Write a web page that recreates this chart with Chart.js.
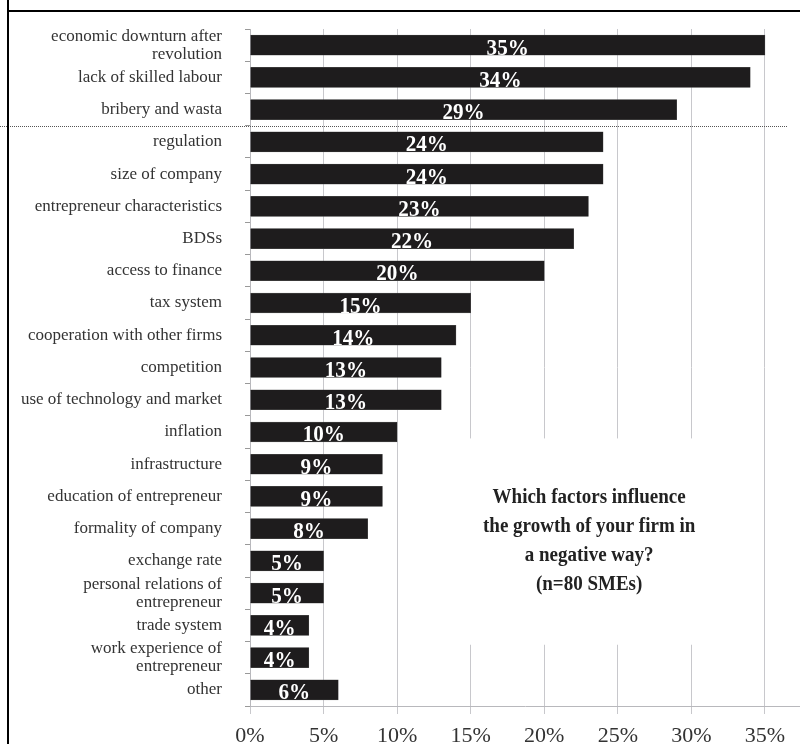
<!DOCTYPE html>
<html>
<head>
<meta charset="utf-8">
<script src="https://cdn.jsdelivr.net/npm/chart.js@4/dist/chart.umd.min.js"></script>
<style>
  html, body { margin: 0; padding: 0; background: #fff; }
  canvas { display: block; }
</style>
</head>
<body>
<canvas id="c" width="800" height="744"></canvas>
<script>
const categories = [
  ["economic downturn after", "revolution"],
  "lack of skilled labour",
  "bribery and wasta",
  "regulation",
  "size of company",
  "entrepreneur characteristics",
  "BDSs",
  "access to finance",
  "tax system",
  "cooperation with other firms",
  "competition",
  "use of technology and market",
  "inflation",
  "infrastructure",
  "education of entrepreneur",
  "formality of company",
  "exchange rate",
  ["personal relations of", "entrepreneur"],
  "trade system",
  ["work experience of", "entrepreneur"],
  "other"
];
const values = [35, 34, 29, 24, 24, 23, 22, 20, 15, 14, 13, 13, 10, 9, 9, 8, 5, 5, 4, 4, 6];
const tickValues = [0, 5, 10, 15, 20, 25, 30, 35];
const noteLines = ["Which factors influence", "the growth of your firm in", "a negative way?", "(n=80 SMEs)"];

const SERIF = '"Liberation Serif", "DejaVu Serif", serif';

const bgPlugin = {
  id: 'bg',
  beforeDraw(chart) {
    const ctx = chart.ctx;
    ctx.save();
    ctx.fillStyle = '#fff';
    ctx.fillRect(0, 0, chart.width, chart.height);
    ctx.restore();
  }
};

const notePlugin = {
  id: 'note',
  beforeDatasetsDraw(chart) {
    const ctx = chart.ctx;
    const xs = chart.scales.x, ys = chart.scales.y;
    const x0 = xs.getPixelForValue(10.2), x1 = xs.getPixelForValue(34.5);
    const y0 = ys.getPixelForValue(12.2), y1 = ys.getPixelForValue(18.6);
    ctx.save();
    ctx.fillStyle = '#fff';
    ctx.fillRect(x0, y0, x1 - x0, y1 - y0);
    ctx.restore();
  },
  afterDatasetsDraw(chart) {
    const ctx = chart.ctx;
    const xs = chart.scales.x, ys = chart.scales.y;
    const cx = xs.getPixelForValue(23.05);
    const yStart = ys.getPixelForValue(14.05);
    ctx.save();
    ctx.fillStyle = '#222';
    ctx.textAlign = 'center';
    ctx.textBaseline = 'middle';
    noteLines.forEach((t, i) => {
      ctx.save();
      ctx.translate(cx, yStart + i * 29);
      ctx.scale(0.95, 1);
      ctx.font = 'bold 20px ' + SERIF;
      ctx.fillText(t, 0, 0);
      ctx.restore();
    });
    ctx.restore();
  }
};

const labelPlugin = {
  id: 'barLabels',
  afterDatasetsDraw(chart) {
    const ctx = chart.ctx;
    const meta = chart.getDatasetMeta(0);
    ctx.save();
    ctx.fillStyle = '#fff';
    ctx.textAlign = 'center';
    ctx.textBaseline = 'alphabetic';
    meta.data.forEach((bar, i) => {
      const cx = (bar.base + bar.x) / 2;
      ctx.save();
      ctx.translate(cx, bar.y + 9.5);
      ctx.scale(0.88, 1);
      ctx.font = 'bold 24px ' + SERIF;
      ctx.fillText(values[i] + '%', 0, 0);
      ctx.restore();
    });
    ctx.restore();
  }
};

const dividerPlugin = {
  id: 'divider',
  afterDatasetsDraw(chart) {
    const ctx = chart.ctx;
    const ys = chart.scales.y;
    const y = Math.round((ys.getPixelForValue(2) + ys.getPixelForValue(3)) / 2) + 0.5;
    ctx.save();
    ctx.strokeStyle = '#555';
    ctx.lineWidth = 1;
    ctx.setLineDash([1, 1]);
    ctx.beginPath();
    ctx.moveTo(0, y);
    ctx.lineTo(788, y);
    ctx.stroke();
    ctx.restore();
  }
};

const framePlugin = {
  id: 'frame',
  afterDraw(chart) {
    const ctx = chart.ctx;
    ctx.save();
    ctx.strokeStyle = '#000';
    ctx.lineWidth = 2;
    ctx.beginPath();
    ctx.moveTo(8, 0);
    ctx.lineTo(8, chart.height);
    ctx.moveTo(8, 11);
    ctx.lineTo(chart.width, 11);
    ctx.stroke();
    ctx.restore();
  }
};

new Chart(document.getElementById('c'), {
  type: 'bar',
  data: {
    labels: categories,
    datasets: [{
      data: values,
      backgroundColor: '#1e1c1d',
      borderColor: '#555',
      borderWidth: 0.5,
      barThickness: 20
    }]
  },
  options: {
    indexAxis: 'y',
    responsive: false,
    animation: false,
    events: [],
    layout: { padding: { top: 29, left: 0, right: 0, bottom: 0 } },
    plugins: {
      legend: { display: false },
      tooltip: { enabled: false }
    },
    scales: {
      x: {
        min: 0,
        max: 37.38,
        afterBuildTicks(scale) {
          scale.ticks = tickValues.map(v => ({ value: v }));
        },
        afterFit(scale) { scale.height = 38; scale.paddingLeft = 0; scale.paddingRight = 0; },
        ticks: {
          stepSize: 5,
          includeBounds: false,
          callback: v => v + '%',
          color: '#333',
          font: { family: SERIF, size: 22 },
          padding: 9,
          maxRotation: 0
        },
        grid: {
          color: '#c8c8cc',
          lineWidth: 1,
          tickLength: 8,
          drawTicks: true
        },
        border: { color: '#b8b8bc', width: 1 }
      },
      y: {
        afterFit(scale) { scale.width = 250; scale.paddingTop = 0; scale.paddingBottom = 0; },
        ticks: {
          color: '#333',
          font: { family: SERIF, size: 17, lineHeight: 1.05 },
          padding: 23,
          crossAlign: 'near',
          autoSkip: false
        },
        grid: {
          offset: true,
          drawOnChartArea: false,
          drawTicks: true,
          tickLength: 5,
          color: '#999'
        },
        border: { color: '#b8b8bc', width: 1 }
      }
    }
  },
  plugins: [bgPlugin, notePlugin, labelPlugin, dividerPlugin, framePlugin]
});
</script>
</body>
</html>
